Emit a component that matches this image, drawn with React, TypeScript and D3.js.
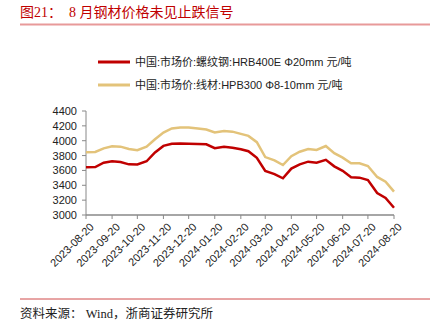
import React from "react";
import * as d3 from "d3";

const dates = [
  "2023-08-20","2023-08-31","2023-09-10","2023-09-20","2023-09-30","2023-10-10","2023-10-20","2023-10-31",
  "2023-11-10","2023-11-20","2023-11-30","2023-12-10","2023-12-20","2023-12-31","2024-01-10","2024-01-20",
  "2024-01-31","2024-02-10","2024-02-20","2024-02-29","2024-03-10","2024-03-20","2024-03-31","2024-04-10",
  "2024-04-20","2024-04-30","2024-05-10","2024-05-20","2024-05-31","2024-06-10","2024-06-20","2024-06-30",
  "2024-07-10","2024-07-20","2024-07-31","2024-08-10","2024-08-20",
];
const rebar = [
  3642, 3646, 3704, 3723, 3712, 3682, 3680, 3723, 3842, 3930, 3960, 3962, 3958, 3956, 3952, 3900,
  3918, 3906, 3886, 3858, 3770, 3592, 3550, 3494, 3625, 3682, 3718, 3704, 3742, 3655, 3595, 3507,
  3503, 3471, 3295, 3230, 3098,
];
const wire = [
  3844, 3848, 3897, 3924, 3920, 3888, 3872, 3920, 4020, 4110, 4165, 4178, 4178, 4165, 4150, 4110,
  4132, 4122, 4092, 4065, 3980, 3780, 3735, 3673, 3792, 3852, 3888, 3875, 3928, 3832, 3772, 3697,
  3696, 3660, 3512, 3449, 3314,
];
const tickLabels = [
  "2023-08-20","2023-09-20","2023-10-20","2023-11-20","2023-12-20","2024-01-20","2024-02-20",
  "2024-03-20","2024-04-20","2024-05-20","2024-06-20","2024-07-20","2024-08-20",
];
const yTicks = [3000, 3200, 3400, 3600, 3800, 4000, 4200, 4400];
const seriesNames = [
  "中国:市场价:螺纹钢:HRB400E Φ20mm 元/吨",
  "中国:市场价:线材:HPB300 Φ8-10mm 元/吨",
];
const colors = ["#c00000", "#e3c37a"];
const title = "图21：  8 月钢材价格未见止跌信号";
const source = "资料来源： Wind，浙商证券研究所";

const parse = d3.timeParse("%Y-%m-%d");

export default function App() {
  const W = 437, H = 332;
  const x = d3.scaleTime()
    .domain([parse("2023-08-20")!, parse("2024-08-20")!])
    .range([86, 394]);
  const y = d3.scaleLinear().domain([3000, 4400]).range([215, 111]);
  const line = d3.line<number>()
    .x((_, i) => x(parse(dates[i])!))
    .y((d) => y(d))
    .curve(d3.curveLinear);
  const sans = "Liberation Sans, Arial, 'Noto Sans CJK SC', sans-serif";
  const serif = "'Liberation Serif', 'Noto Sans CJK SC', serif";
  return (
    <svg width={W} height={H} style={{ position: "absolute", left: 0, top: 0, background: "#fff" }}>
      <text x={20} y={17} fontSize={14} fill="#c00000" fontFamily={serif} style={{ whiteSpace: "pre" }}>{title}</text>
      <line x1={20} x2={430} y1={24.5} y2={24.5} stroke="#e89a9a" strokeWidth={2} />

      {seriesNames.map((n, i) => (
        <g key={n}>
          <line x1={98} x2={130} y1={62 + i * 23} y2={62 + i * 23} stroke={colors[i]} strokeWidth={3} />
          <text x={135} y={66 + i * 23} fontSize={11} fill="#222" fontFamily={sans}>{n}</text>
        </g>
      ))}

      <line x1={86} x2={86} y1={111} y2={215} stroke="#888" strokeWidth={1} />
      {yTicks.map((t) => (
        <g key={t}>
          <line x1={82} x2={86} y1={y(t)} y2={y(t)} stroke="#888" />
          <text x={77} y={y(t) + 4} fontSize={11} textAnchor="end" fill="#222" fontFamily={sans}>{t}</text>
        </g>
      ))}
      <line x1={86} x2={394} y1={215} y2={215} stroke="#888" strokeWidth={1.5} />
      {tickLabels.map((t) => {
        const tx = x(parse(t)!);
        return (
          <g key={t}>
            <line x1={tx} x2={tx} y1={215} y2={219} stroke="#888" />
            <text
              transform={`translate(${tx + 3},${222}) rotate(-45)`}
              fontSize={11}
              textAnchor="end"
              dominantBaseline="hanging"
              fill="#222"
              fontFamily={sans}
            >{t}</text>
          </g>
        );
      })}

      <path d={line(wire) || ""} fill="none" stroke={colors[1]} strokeWidth={2.5} />
      <path d={line(rebar) || ""} fill="none" stroke={colors[0]} strokeWidth={2.5} />

      <line x1={20} x2={430} y1={299} y2={299} stroke="#d04a4a" strokeWidth={1} />
      <text x={20} y={318} fontSize={12.5} fill="#222" fontFamily={serif} style={{ whiteSpace: "pre" }}>{source}</text>
    </svg>
  );
}
